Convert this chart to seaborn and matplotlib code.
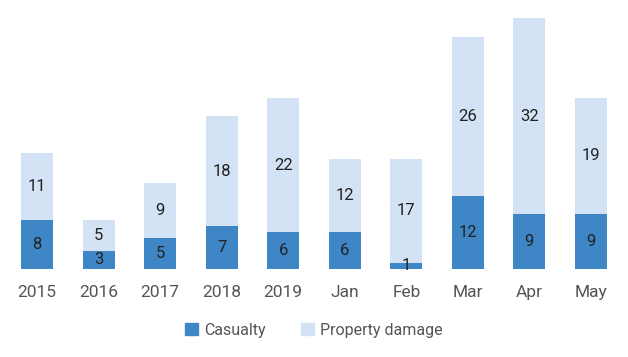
import pandas as pd
import matplotlib.pyplot as plt
import seaborn as sns
from matplotlib.patches import Patch

# data
categories = ['2015', '2016', '2017', '2018', '2019', 'Jan', 'Feb', 'Mar', 'Apr', 'May']
casualty = [8, 3, 5, 7, 6, 6, 1, 12, 9, 9]
property_damage = [11, 5, 9, 18, 22, 12, 17, 26, 32, 19]

sns.set_theme(style="white")
plt.rcParams['font.family'] = ['Roboto', 'DejaVu Sans']

c_cas = '#3f86c7'
c_prop = '#d3e3f5'

df = pd.DataFrame({'cat': categories, 'Casualty': casualty, 'Property damage': property_damage})
df['total'] = df['Casualty'] + df['Property damage']

fig = plt.figure(figsize=(6.28, 3.57), dpi=100)
ax = fig.add_axes([0.01, 0.247, 0.98, 0.72])

# stacked: draw total first, then casualty over it
sns.barplot(data=df, x='cat', y='total', color=c_prop, saturation=1, width=0.52,
            linewidth=0, ax=ax)
sns.barplot(data=df, x='cat', y='Casualty', color=c_cas, saturation=1, width=0.52,
            linewidth=0, ax=ax)

for i, (c, p) in enumerate(zip(casualty, property_damage)):
    ax.text(i, c / 2, str(c), ha='center', va='center', fontsize=12, color='#222222')
    ax.text(i, c + p / 2, str(p), ha='center', va='center', fontsize=12, color='#222222')

ax.set_ylim(0, 42.1)
ax.set_xlim(-0.5, len(categories) - 0.5)
ax.set_xlabel('')
ax.set_ylabel('')
ax.set_yticks([])
ax.tick_params(axis='x', length=0, pad=12, labelsize=12.5, labelcolor='#555555')
sns.despine(ax=ax, left=True, bottom=True, top=True, right=True)

handles = [Patch(color=c_cas, label='Casualty'), Patch(color=c_prop, label='Property damage')]
fig.legend(handles=handles, loc='center', bbox_to_anchor=(0.5, 0.075), ncol=2, frameon=False,
           fontsize=11.5, handlelength=0.8, handleheight=0.8, columnspacing=2.2, handletextpad=0.4,
           labelcolor='#555555')

plt.savefig('out.png', dpi=100)
